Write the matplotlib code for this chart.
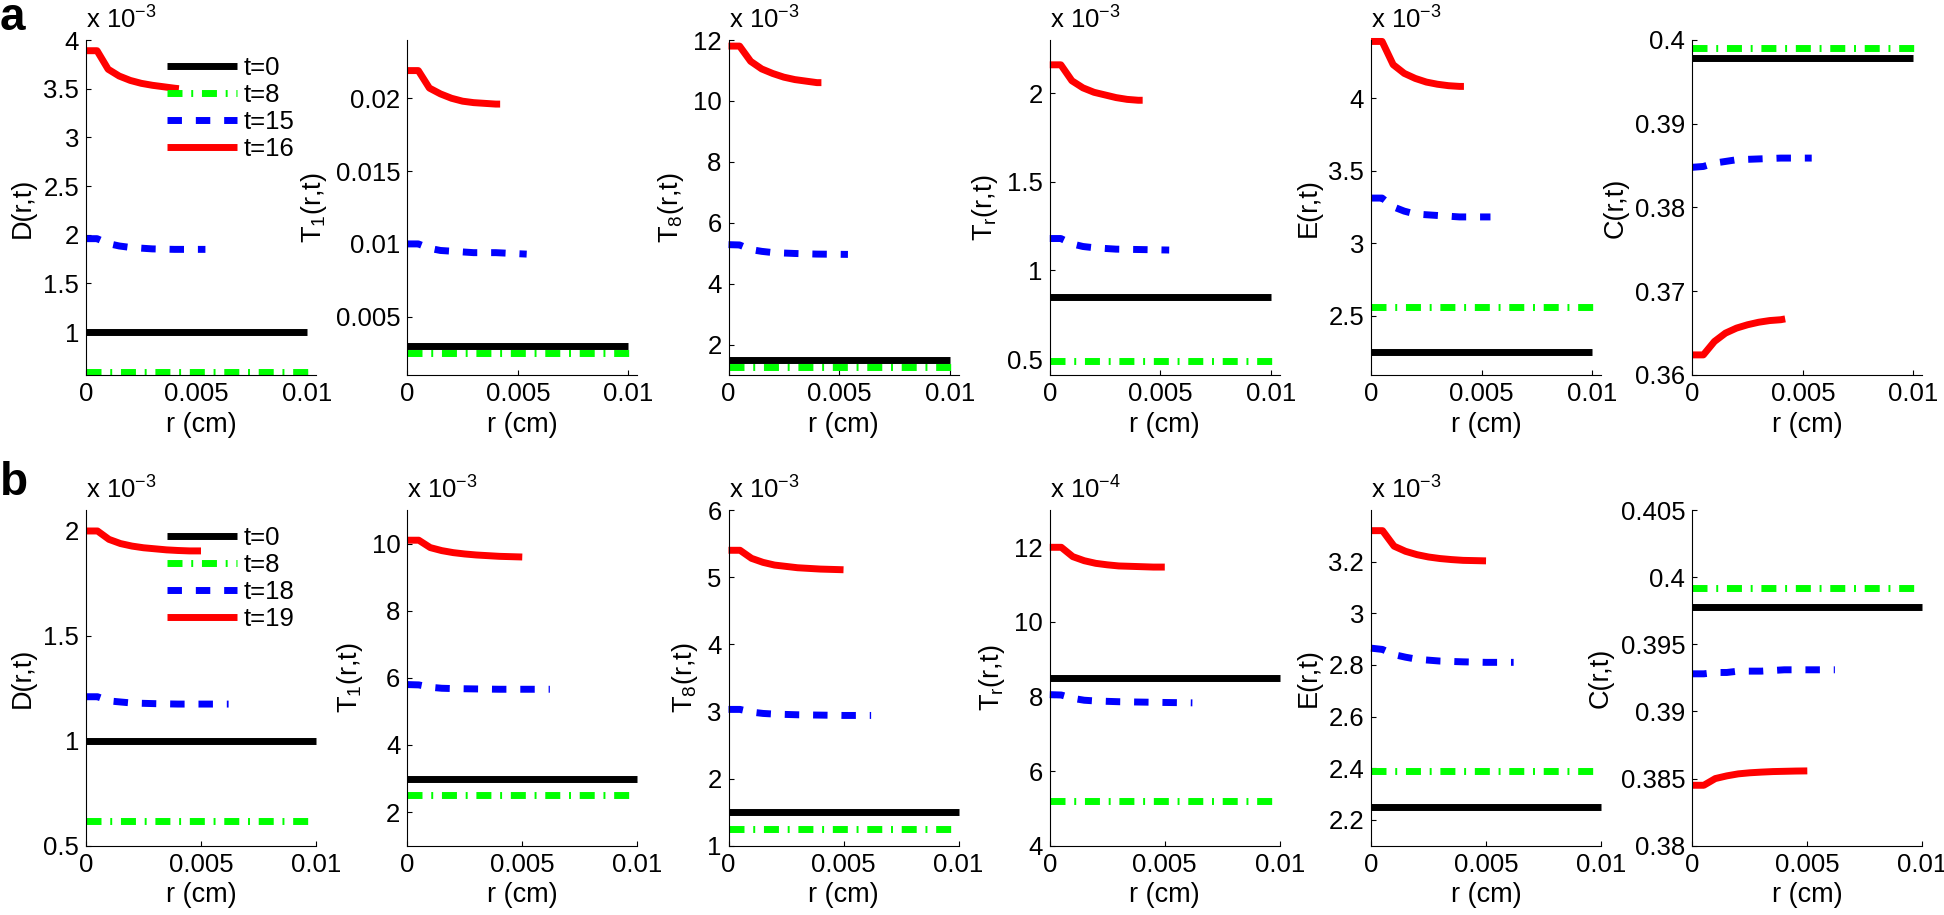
import matplotlib
matplotlib.use("Agg")
import matplotlib.pyplot as plt
from matplotlib.ticker import FixedLocator, FuncFormatter

plt.rcParams['font.family'] = ['Liberation Sans', 'DejaVu Sans']
plt.rcParams['mathtext.default'] = 'regular'
plt.rcParams['lines.scale_dashes'] = False

# ---------------- radial grids (cm) ----------------
r_t0 = [0.0, 0.01]
r_t8_a = [0.0, 0.0104]
r_t8_b = [0.0, 0.0098]
r_late_a = [0.0, 0.0005, 0.001, 0.0015, 0.002, 0.0025, 0.003, 0.0035, 0.004, 0.0042]
r_mid_a = [0.0, 0.0005, 0.001, 0.0015, 0.002, 0.003, 0.004, 0.0054]
r_late_b = [0.0, 0.0005, 0.001, 0.0015, 0.002, 0.0025, 0.003, 0.0035, 0.004, 0.0045, 0.005]
r_mid_b = [0.0, 0.0005, 0.001, 0.0015, 0.002, 0.003, 0.004, 0.005, 0.0062]

times_a = ['t=0', 't=8', 't=15', 't=16']
times_b = ['t=0', 't=8', 't=18', 't=19']

# ---------------- row a (values in displayed units) ----------------
D_a_t0 = [1.0, 1.0]
D_a_t8 = [0.59, 0.59]
D_a_t15 = [1.96, 1.96, 1.91, 1.885, 1.87, 1.855, 1.85, 1.85]
D_a_t16 = [3.89, 3.89, 3.70, 3.63, 3.585, 3.555, 3.535, 3.52, 3.505, 3.50]

T1_a_t0 = [0.0030, 0.0030]
T1_a_t8 = [0.0025, 0.0025]
T1_a_t15 = [0.0100, 0.0100, 0.0097, 0.00955, 0.0095, 0.0094, 0.0094, 0.0093]
T1_a_t16 = [0.0219, 0.0219, 0.0207, 0.0203, 0.0200, 0.0198, 0.0197, 0.01965, 0.0196, 0.0196]

T8_a_t0 = [1.5, 1.5]
T8_a_t8 = [1.25, 1.25]
T8_a_t15 = [5.28, 5.27, 5.12, 5.06, 5.02, 4.99, 4.97, 4.96]
T8_a_t16 = [11.8, 11.8, 11.3, 11.05, 10.9, 10.78, 10.7, 10.65, 10.6, 10.6]

Tr_a_t0 = [0.85, 0.85]
Tr_a_t8 = [0.49, 0.49]
Tr_a_t15 = [1.18, 1.18, 1.15, 1.135, 1.128, 1.12, 1.118, 1.115]
Tr_a_t16 = [2.16, 2.16, 2.07, 2.03, 2.005, 1.99, 1.975, 1.965, 1.96, 1.96]

E_a_t0 = [2.25, 2.25]
E_a_t8 = [2.56, 2.56]
E_a_t15 = [3.31, 3.31, 3.25, 3.22, 3.20, 3.19, 3.18, 3.18]
E_a_t16 = [4.39, 4.39, 4.23, 4.17, 4.135, 4.11, 4.095, 4.085, 4.08, 4.08]

C_a_t0 = [0.3978, 0.3978]
C_a_t8 = [0.3991, 0.3991]
C_a_t15 = [0.3848, 0.3849, 0.3853, 0.3855, 0.3857, 0.3858, 0.3859, 0.3859]
C_a_t16 = [0.3624, 0.3624, 0.3640, 0.3650, 0.3656, 0.3660, 0.3663, 0.3665, 0.3666, 0.3667]

# ---------------- row b ----------------
D_b_t0 = [1.0, 1.0]
D_b_t8 = [0.62, 0.62]
D_b_t18 = [1.21, 1.21, 1.19, 1.185, 1.18, 1.177, 1.175, 1.175, 1.175]
D_b_t19 = [2.0, 2.0, 1.96, 1.94, 1.928, 1.92, 1.915, 1.91, 1.907, 1.905, 1.905]

T1_b_t0 = [3.0, 3.0]
T1_b_t8 = [2.5, 2.5]
T1_b_t18 = [5.8, 5.79, 5.72, 5.69, 5.68, 5.67, 5.66, 5.66, 5.66]
T1_b_t19 = [10.1, 10.1, 9.88, 9.79, 9.73, 9.69, 9.66, 9.64, 9.62, 9.61, 9.6]

T8_b_t0 = [1.5, 1.5]
T8_b_t8 = [1.25, 1.25]
T8_b_t18 = [3.03, 3.03, 2.99, 2.97, 2.96, 2.95, 2.945, 2.94, 2.94]
T8_b_t19 = [5.4, 5.4, 5.28, 5.22, 5.18, 5.16, 5.14, 5.13, 5.12, 5.115, 5.11]

Tr_b_t0 = [8.5, 8.5]
Tr_b_t8 = [5.2, 5.2]
Tr_b_t18 = [8.05, 8.04, 7.95, 7.9, 7.88, 7.86, 7.85, 7.84, 7.83]
Tr_b_t19 = [12.0, 12.0, 11.75, 11.64, 11.57, 11.53, 11.5, 11.49, 11.48, 11.47, 11.47]

E_b_t0 = [2.25, 2.25]
E_b_t8 = [2.39, 2.39]
E_b_t18 = [2.865, 2.86, 2.84, 2.83, 2.822, 2.815, 2.812, 2.81, 2.81]
E_b_t19 = [3.32, 3.32, 3.26, 3.24, 3.227, 3.218, 3.212, 3.208, 3.205, 3.204, 3.203]

C_b_t0 = [0.3978, 0.3978]
C_b_t8 = [0.3992, 0.3992]
C_b_t18 = [0.3928, 0.3928, 0.3929, 0.3929, 0.3930, 0.3930, 0.3931, 0.3931, 0.3931]
C_b_t19 = [0.3845, 0.3845, 0.3850, 0.3852, 0.38535, 0.38543, 0.38548, 0.38552, 0.38554, 0.38556, 0.38557]

# ---------------- axis labels / ticks ----------------
ylabels = ['D(r,t)', '$T_1$(r,t)', '$T_8$(r,t)', '$T_r$(r,t)', 'E(r,t)', 'C(r,t)']
xticks = [0, 0.005, 0.01]

ylim_a = [(0.56, 4.0), (0.001, 0.024), (1.0, 12.0), (0.41, 2.3), (2.09, 4.4), (0.36, 0.40)]
yticks_a = [[1, 1.5, 2, 2.5, 3, 3.5, 4], [0.005, 0.01, 0.015, 0.02], [2, 4, 6, 8, 10, 12],
            [0.5, 1, 1.5, 2], [2.5, 3, 3.5, 4], [0.36, 0.37, 0.38, 0.39, 0.4]]
exp_a = [-3, None, -3, -3, -3, None]

ylim_b = [(0.5, 2.1), (1.0, 11.0), (1.0, 6.0), (4.0, 13.0), (2.1, 3.4), (0.38, 0.405)]
yticks_b = [[0.5, 1, 1.5, 2], [2, 4, 6, 8, 10], [1, 2, 3, 4, 5, 6], [4, 6, 8, 10, 12],
            [2.2, 2.4, 2.6, 2.8, 3, 3.2], [0.38, 0.385, 0.39, 0.395, 0.4, 0.405]]
exp_b = [-3, -3, -3, -4, -3, None]

rows = [
    dict(label='a', times=times_a, xmax=0.0104, ylims=ylim_a, yticks=yticks_a, exps=exp_a,
         r=[r_t0, r_t8_a, r_mid_a, r_late_a],
         data=[[D_a_t0, D_a_t8, D_a_t15, D_a_t16], [T1_a_t0, T1_a_t8, T1_a_t15, T1_a_t16],
               [T8_a_t0, T8_a_t8, T8_a_t15, T8_a_t16], [Tr_a_t0, Tr_a_t8, Tr_a_t15, Tr_a_t16],
               [E_a_t0, E_a_t8, E_a_t15, E_a_t16], [C_a_t0, C_a_t8, C_a_t15, C_a_t16]],
         top_px=40, bot_px=375, lab_base=30),
    dict(label='b', times=times_b, xmax=0.01, ylims=ylim_b, yticks=yticks_b, exps=exp_b,
         r=[r_t0, r_t8_b, r_mid_b, r_late_b],
         data=[[D_b_t0, D_b_t8, D_b_t18, D_b_t19], [T1_b_t0, T1_b_t8, T1_b_t18, T1_b_t19],
               [T8_b_t0, T8_b_t8, T8_b_t18, T8_b_t19], [Tr_b_t0, Tr_b_t8, Tr_b_t18, Tr_b_t19],
               [E_b_t0, E_b_t8, E_b_t18, E_b_t19], [C_b_t0, C_b_t8, C_b_t18, C_b_t19]],
         top_px=510, bot_px=845.7, lab_base=495),
]

styles = [
    dict(color='black', linestyle='-'),
    dict(color=(0, 1, 0), linestyle=(0, (10.8, 6.3, 1.4, 6.3))),
    dict(color='blue', linestyle=(0, (10.4, 10.0))),
    dict(color='red', linestyle='-'),
]

W, H = 1944, 915
fig = plt.figure(figsize=(W / 100, H / 100), dpi=100)
FS = 18.5
LW = 5.0
left0, step, width = 86.0, 321.26, 230.0
fmt = FuncFormatter(lambda v, p: '%g' % v)

for row in rows:
    top, bot = row['top_px'], row['bot_px']
    for i in range(6):
        x0 = left0 + i * step
        ax = fig.add_axes([x0 / W, 1 - bot / H, width / W, (bot - top) / H])
        for k in range(4):
            ax.plot(row['r'][k], row['data'][i][k], linewidth=LW, solid_capstyle='butt',
                    dash_capstyle='butt', clip_on=False, label=row['times'][k], **styles[k])
        ax.set_xlim(0, row['xmax'])
        ax.set_ylim(*row['ylims'][i])
        ax.xaxis.set_major_locator(FixedLocator(xticks))
        ax.yaxis.set_major_locator(FixedLocator(row['yticks'][i]))
        ax.xaxis.set_major_formatter(fmt)
        ax.yaxis.set_major_formatter(fmt)
        for s in ('top', 'right'):
            ax.spines[s].set_visible(False)
        for s in ('left', 'bottom'):
            ax.spines[s].set_linewidth(0.8)
        ax.tick_params(direction='in', length=3.5, width=0.8, labelsize=FS, pad=5)
        ax.set_xlabel('r (cm)', fontsize=FS + 1, labelpad=4)
        ax.set_ylabel(ylabels[i], fontsize=FS + 1, labelpad=5)
        if row['exps'][i] is not None:
            ax.text(0, 1 + 11.7 / (bot - top), 'x 10$^{%d}$' % row['exps'][i],
                    transform=ax.transAxes, fontsize=FS, ha='left', va='baseline')
        if i == 0:
            ax.legend(loc='upper left', bbox_to_anchor=(0.351, 0.953), frameon=False,
                      borderpad=0, borderaxespad=0, handlelength=2.72, handletextpad=0.27,
                      labelspacing=0.12, fontsize=FS)
    fig.text(0.0, 1 - row['lab_base'] / H, row['label'], fontsize=33, fontweight='bold',
             ha='left', va='baseline')

fig.savefig('out.png', dpi=100)
